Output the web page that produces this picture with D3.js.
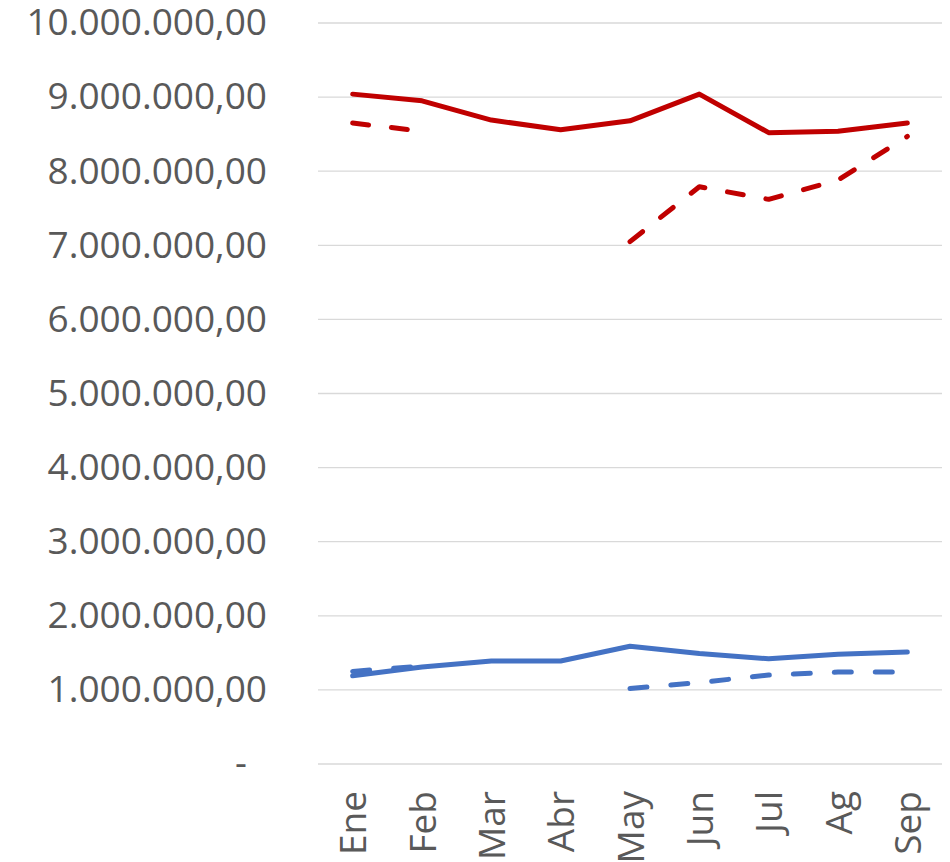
<!DOCTYPE html>
<html>
<head>
<meta charset="utf-8">
<script src="https://cdn.jsdelivr.net/npm/d3@7"></script>
<style>
  body { margin: 0; background: #fff; }
  .axis text { font-family: "Open Sans", sans-serif; fill: #595959; }
  .axis path, .axis line { display: none; }
</style>
</head>
<body>
<div id="chart"></div>
<script>
var months = ["Ene", "Feb", "Mar", "Abr", "May", "Jun", "Jul", "Ag", "Sep"];
var redSolid  = [9040000, 8950000, 8690000, 8560000, 8680000, 9040000, 8520000, 8540000, 8650000];
var redDashed = [8650000, 8540000, null, null, 7050000, 7790000, 7620000, 7880000, 8470000];
var blueSolid  = [1190000, 1310000, 1390000, 1390000, 1590000, 1490000, 1420000, 1480000, 1510000];
var blueDashed = [1250000, 1320000, null, null, 1020000, 1100000, 1200000, 1240000, 1240000];
var yTicks = [0, 1000000, 2000000, 3000000, 4000000, 5000000, 6000000, 7000000, 8000000, 9000000, 10000000];

var margin = {top: 23, right: 8, bottom: 98, left: 318};
var width = 950 - margin.left - margin.right;
var height = 862 - margin.top - margin.bottom;

var es = d3.formatLocale({decimal: ",", thousands: ".", grouping: [3], currency: ["", ""]});
var fmt = es.format(",.2f");

var svg = d3.select("#chart")
  .append("svg")
    .attr("width", 950)
    .attr("height", 862)
  .append("g")
    .attr("transform", "translate(" + margin.left + "," + margin.top + ")");

var xScale = d3.scalePoint()
  .domain(months)
  .range([0, width])
  .padding(0.5);

var yScale = d3.scaleLinear()
  .domain([0, 10000000])
  .range([height, 0]);

// gridlines
svg.selectAll(".grid")
  .data(yTicks)
  .enter().append("line")
    .attr("class", "grid")
    .attr("x1", 0)
    .attr("x2", width)
    .attr("y1", function(d) { return yScale(d); })
    .attr("y2", function(d) { return yScale(d); })
    .attr("stroke", "#d9d9d9")
    .attr("stroke-width", 1.3);

// y axis
var yAxis = svg.append("g")
  .attr("class", "axis")
  .call(d3.axisLeft(yScale)
    .tickValues(yTicks)
    .tickSize(0)
    .tickPadding(51)
    .tickFormat(function(d) { return d === 0 ? "-" : fmt(d); }));
yAxis.selectAll("text").style("font-size", "37px");
yAxis.selectAll("text").filter(function(d) { return d === 0; }).attr("dx", -20);

// x axis
var xAxis = svg.append("g")
  .attr("class", "axis")
  .attr("transform", "translate(0," + height + ")")
  .call(d3.axisBottom(xScale).tickSize(0).tickPadding(0));
xAxis.selectAll("text")
  .style("font-size", "37px")
  .attr("text-anchor", "end")
  .attr("dy", null)
  .attr("y", 0)
  .attr("transform", "translate(13,27) rotate(-90)");

var line = d3.line()
  .defined(function(d) { return d !== null; })
  .x(function(d, i) { return xScale(months[i]); })
  .y(function(d) { return yScale(d); });

var series = [
  {values: redSolid, color: "#c00000", dash: null},
  {values: redDashed, color: "#c00000", dash: "16,23"},
  {values: blueSolid, color: "#4472c4", dash: null},
  {values: blueDashed, color: "#4472c4", dash: "17,24"}
];

series.forEach(function(s) {
  svg.append("path")
    .datum(s.values)
    .attr("fill", "none")
    .attr("stroke", s.color)
    .attr("stroke-width", 5)
    .attr("stroke-linejoin", "round")
    .attr("stroke-linecap", "round")
    .attr("stroke-dasharray", s.dash)
    .attr("d", line);
});
</script>
</body>
</html>
